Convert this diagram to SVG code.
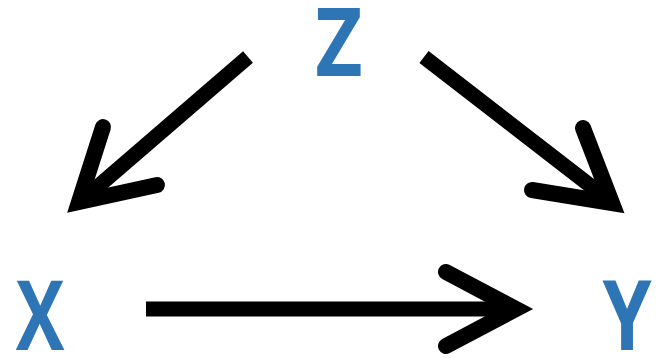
<svg xmlns="http://www.w3.org/2000/svg" width="662" height="358" viewBox="0 0 662 358">
<style>
.lbl{font-family:"Open Sans","Liberation Sans",sans-serif;font-weight:bold;font-size:96px;fill:#2E75B6;text-anchor:middle}
.shaft{stroke:#000;stroke-width:15;fill:none}
.head{stroke:#000;stroke-width:16;fill:none;stroke-linecap:round;stroke-linejoin:miter;stroke-miterlimit:10}
</style>
<rect width="662" height="358" fill="#fff"/>
<g id="node-Z"><text class="lbl" transform="translate(339,76) scale(0.85,1)">Z</text></g>
<g id="node-X"><text class="lbl" transform="translate(40,350) scale(0.76,1)">X</text></g>
<g id="node-Y"><text class="lbl" transform="translate(627,350) scale(0.82,1)">Y</text></g>
<g id="connectors">
<line class="shaft" x1="248" y1="57" x2="88" y2="195"/>
<polyline class="head" points="103,127 79,202 157,185"/>
<line class="shaft" x1="424" y1="57" x2="605" y2="197"/>
<polyline class="head" points="583,128 612,203 532,190"/>
<line class="shaft" x1="146" y1="309" x2="508" y2="309"/>
<polyline class="head" points="446,272 516,309 446,346"/>
</g>
</svg>
